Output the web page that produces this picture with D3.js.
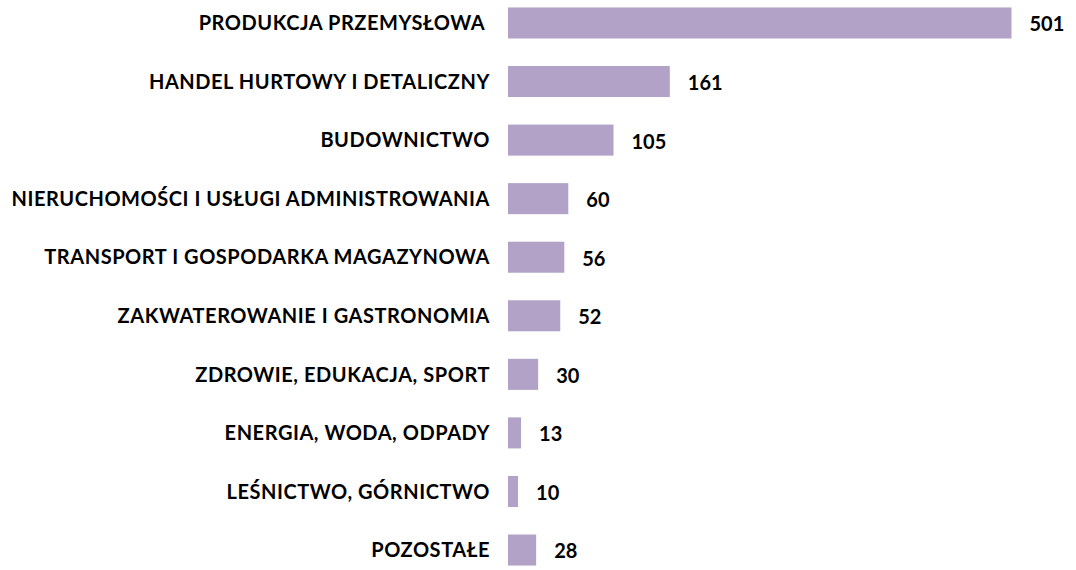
<!DOCTYPE html>
<meta charset="utf-8">
<style>
body { margin: 0; background: #fff; }
.label, .value { font-family: Lato, sans-serif; font-weight: bold; fill: #000; white-space: pre; }
</style>
<body>
<svg class="chart"></svg>
<script src="https://d3js.org/d3.v7.min.js"></script>
<script>
// sectors and counts
let sectors = [
  'PRODUKCJA PRZEMYSŁOWA ',
  'HANDEL HURTOWY I DETALICZNY',
  'BUDOWNICTWO',
  'NIERUCHOMOŚCI I USŁUGI ADMINISTROWANIA',
  'TRANSPORT I GOSPODARKA MAGAZYNOWA',
  'ZAKWATEROWANIE I GASTRONOMIA',
  'ZDROWIE, EDUKACJA, SPORT',
  'ENERGIA, WODA, ODPADY',
  'LEŚNICTWO, GÓRNICTWO',
  'POZOSTAŁE'
];
let counts = [501, 161, 105, 60, 56, 52, 30, 13, 10, 28];

let rwidth = 1076, rheight = 570;
let barLeft = 508, labelRight = 490;

let svg = d3.select('.chart')
  .attr('width', rwidth)
  .attr('height', rheight);

let xscale = d3.scaleLinear().domain([0, 501]).range([barLeft, 1011.5]);
let yscale = d3.scaleBand().domain(sectors)
  .range([-6.3, 579.3])
  .paddingInner(0.47)
  .paddingOuter(0.235);

let rows = sectors.map((s, i) => ({ name: s, value: counts[i] }));

svg.selectAll('rect.bar')
  .data(rows)
  .join('rect')
  .attr('class', 'bar')
  .attr('x', xscale(0))
  .attr('y', d => yscale(d.name))
  .attr('width', d => xscale(d.value) - xscale(0))
  .attr('height', yscale.bandwidth())
  .style('fill', '#b3a2c8');

// category labels, right aligned next to the bars
svg.selectAll('text.label')
  .data(rows)
  .join('text')
  .attr('class', 'label')
  .attr('x', labelRight)
  .attr('y', d => yscale(d.name) + yscale.bandwidth() / 2)
  .attr('dy', '0.36em')
  .style('font-size', '20px')
  .style('letter-spacing', '0.55px')
  .style('text-anchor', 'end')
  .text(d => d.name);

svg.selectAll('text.value')
  .data(rows)
  .join('text')
  .attr('class', 'value')
  .attr('x', d => xscale(d.value) + 18)
  .attr('y', d => yscale(d.name) + yscale.bandwidth() / 2)
  .attr('dy', '0.42em')
  .style('font-size', '20px')
  .text(d => d.value);
</script>
</body>
